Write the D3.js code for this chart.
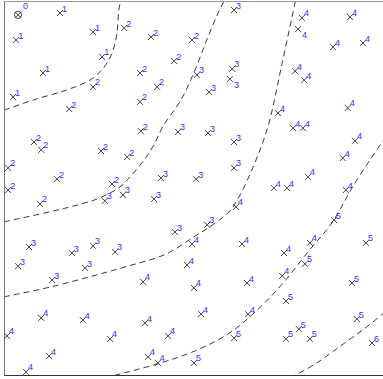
<!DOCTYPE html>
<html><head><meta charset="utf-8">
<script src="https://cdn.jsdelivr.net/npm/d3@7/dist/d3.min.js"></script>
<style>html,body{margin:0;padding:0;background:#fff;}svg{display:block;}</style>
</head><body>
<script>
// point coordinates (data units, 0..100, y up) and their labelled level
const xs = [3.7,14.8,3.2,23.5,10.3,25.9,2.4,23.5,17.2,31.7,38.8,49.6,44.9,35.9,50.9,60.7,60.2,59.6,40.4,54.1,
35.9,36.1,45.9,53.8,60.7,78.6,77.6,91.3,86.8,94.7,76.8,79.2,90.7,72.3,76.3,78.9,7.9,9.8,25.6,32.5,
1.1,14.0,1.1,28.5,26.6,31.4,9.5,6.6,17.9,23.5,29.3,41.4,50.7,60.7,39.6,61.2,53.6,45.1,49.6,62.8,
92.6,89.4,80.2,71.2,74.7,90.2,87.1,80.7,95.5,73.9,3.7,21.4,12.7,9.8,20.8,0.8,28.0,11.9,5.8,48.3,
36.7,50.1,64.1,52.0,37.2,64.4,43.3,60.7,38.0,40.6,50.1,79.4,73.4,91.8,74.4,93.1,77.8,74.4,80.7,97.1];
const ys = [96.3,96.8,89.6,91.7,80.8,85.1,74.4,77.1,71.2,92.8,90.4,89.6,84.0,80.8,80.3,97.6,81.9,79.2,77.1,75.7,
73.1,65.3,65.1,64.8,62.4,95.5,92.5,95.7,87.7,88.8,81.3,78.9,71.5,70.1,66.1,66.1,62.4,60.3,60.0,58.4,
55.5,52.5,49.6,51.2,46.7,48.3,45.9,34.4,32.8,34.7,33.1,52.8,52.5,55.5,47.2,45.1,40.3,38.4,35.2,35.2,
62.7,58.1,53.1,50.1,50.1,49.6,41.6,35.5,35.5,32.8,29.3,28.8,25.6,15.5,14.9,10.7,9.9,5.3,1.1,29.6,
25.1,23.5,24.8,16.5,14.1,16.5,10.7,10.1,5.1,3.5,3.5,29.9,26.7,24.8,20.0,15.2,12.5,9.9,9.9,8.8];
const levels = [0,1,1,1,1,1,1,2,2,2,2,2,2,2,3,3,3,3,2,3,
2,2,3,3,3,4,4,4,4,4,4,4,4,4,4,4,2,2,2,2,
2,2,2,2,3,3,2,3,3,3,3,3,3,3,3,4,3,3,4,4,
4,4,4,4,4,4,5,4,5,4,3,3,3,4,4,4,4,4,4,4,
4,4,4,4,4,4,4,5,4,4,5,5,4,5,5,5,5,5,5,6];
// indices of points whose label sits below the marker
const labelBelow = [17,26];

// dashed boundary curves between levels
const contour12 = [[0,70.9],[7.7,73.6],[16.6,76.3],[22.7,78.9],[25.3,81.1],[27.2,83.5],[28.8,86.9],[29.8,91.5],[30.3,97.6],[30.9,100.5]];
const contour23 = [[0,41.1],[9.5,43.2],[17.5,45.1],[24.3,47.1],[28.0,48.8],[30.6,50.4],[32.7,52.5],[37.2,57.9],[39.8,62.1],[42.0,66.7],[46.7,73.6],[50.4,81.6],[53.8,90.4],[56.5,96.8],[58.3,100.5]];
const contour34 = [[0,21.1],[12.1,23.7],[25.3,27.2],[32.7,29.3],[42.7,32.5],[50.4,37.3],[54.6,40.0],[59.1,43.5],[61.7,47.2],[66.5,57.6],[69.7,66.7],[73.4,83.5],[77.0,100.5]];
const contour45 = [[26.6,-0.5],[32.7,1.1],[41.4,3.5],[50.4,6.7],[59.1,11.2],[66.5,17.3],[73.4,24.5],[80.2,33.1],[86.5,40.8],[92.6,51.5],[100.5,63.4]];
const contour56 = [[75.5,-0.5],[82.1,3.2],[88.1,7.5],[95.3,12.8],[100.5,17.0]];

const W = 383, H = 379;
const svg = d3.select("body").append("svg").attr("width", W).attr("height", H);
const x = d3.scaleLinear().domain([0,100]).range([4,383]);
const y = d3.scaleLinear().domain([0,100]).range([376,1]);

svg.append("defs").append("clipPath").attr("id","clip")
  .append("rect").attr("x",4.5).attr("y",1.5).attr("width",W-4.5).attr("height",374);

const line = d3.line().x(d=>x(d[0])).y(d=>y(d[1])).curve(d3.curveCatmullRom.alpha(0.5));
const gC = svg.append("g").attr("clip-path","url(#clip)");
[contour12, contour23, contour34, contour45, contour56].forEach(c => {
  gC.append("path").attr("d", line(c)).attr("fill","none")
    .attr("stroke","#222").attr("stroke-width",0.9).attr("stroke-dasharray","6,4");
});

// frame
svg.append("line").attr("x1",4).attr("x2",W).attr("y1",1.5).attr("y2",1.5).attr("stroke","#999").attr("stroke-width",1);
svg.append("line").attr("x1",4.5).attr("x2",4.5).attr("y1",1).attr("y2",376).attr("stroke","#777").attr("stroke-width",1);
svg.append("line").attr("x1",4).attr("x2",W).attr("y1",375.5).attr("y2",375.5).attr("stroke","#333").attr("stroke-width",1);

const pts = xs.map((v,i)=>({x:v, y:ys[i], l:levels[i], i}));
const g = svg.append("g");
const s = 3;
pts.forEach(p => {
  const cx = x(p.x), cy = y(p.y);
  const m = g.append("g").attr("transform",`translate(${cx},${cy})`);
  m.append("path").attr("d",`M${-s},${-s}L${s},${s}M${-s},${s}L${s},${-s}`)
    .attr("stroke","#222").attr("stroke-width",0.85).attr("fill","none");
  if (p.l === 0) {
    m.append("circle").attr("r",3.6).attr("fill","none").attr("stroke","#222").attr("stroke-width",0.85);
  }
  const below = labelBelow.includes(p.i);
  const dx = p.l === 0 ? 5 : (below ? 4 : 2);
  const dy = p.l === 0 ? -6 : (below ? 9 : -1.5);
  m.append("text").attr("x",dx).attr("y",dy).text(p.l)
    .attr("font-family","'Liberation Sans', Arial, sans-serif").attr("font-size",9)
    .attr("fill","#2f2fff");
});
</script>
</body></html>
